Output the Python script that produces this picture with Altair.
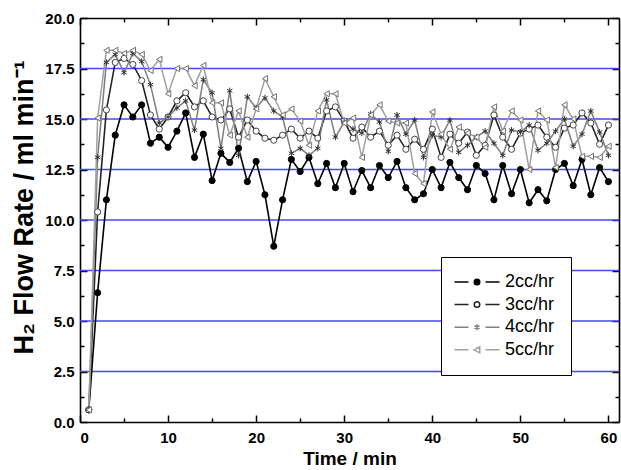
import altair as alt
import pandas as pd

# ---------------- data ----------------
time_min = list(range(1, 61))
series_names = ["2cc/hr", "3cc/hr", "4cc/hr", "5cc/hr"]

flow_2cc = [0.6, 6.4, 11.0, 14.2, 15.7, 15.1, 15.7, 13.8, 14.1, 13.6,
            14.4, 15.3, 13.1, 14.25, 11.95, 13.3, 12.85, 13.55, 11.9, 12.9,
            11.25, 8.7, 11.0, 13.0, 12.4, 13.1, 11.8, 12.8, 11.6, 12.8,
            11.4, 12.45, 11.6, 12.7, 12.1, 12.9, 11.6, 11.0, 11.3, 12.5,
            11.6, 12.85, 12.1, 11.5, 12.7, 12.3, 11.0, 12.7, 11.3, 12.5,
            10.85, 11.5, 10.95, 12.5, 12.8, 11.7, 13.0, 11.25, 12.6, 11.9]
flow_3cc = [0.6, 10.4, 15.45, 17.8, 18.0, 17.7, 16.9, 15.2, 14.5, 15.1,
            15.9, 16.3, 15.6, 15.9, 15.1, 14.95, 15.5, 14.1, 14.95, 14.4,
            14.05, 13.95, 14.2, 14.5, 14.05, 14.4, 14.05, 15.4, 15.6, 14.9,
            14.05, 14.6, 14.1, 14.4, 13.7, 14.2, 13.5, 14.0, 13.5, 14.5,
            13.1, 14.25, 13.8, 14.35, 13.2, 13.7, 15.2, 14.1, 13.5, 14.3,
            14.5, 14.7, 14.1, 13.6, 14.55, 14.7, 15.3, 14.8, 13.75, 14.7]
flow_4cc = [0.6, 13.1, 17.8, 18.2, 17.3, 18.25, 17.85, 16.7, 14.8, 15.1,
            15.55, 15.9, 14.45, 16.95, 16.3, 13.55, 16.4, 13.2, 16.1, 15.55,
            16.05, 15.4, 15.1, 13.3, 13.55, 13.2, 13.55, 15.95, 14.1, 14.85,
            14.5, 14.3, 15.25, 14.85, 13.4, 15.2, 14.25, 14.95, 13.1, 14.2,
            14.1, 14.95, 13.35, 13.7, 14.1, 14.4, 13.8, 13.2, 14.45, 14.35,
            14.7, 13.45, 13.8, 14.4, 15.0, 13.65, 14.25, 15.4, 14.35, 13.2]
flow_5cc = [0.6, 15.05, 18.4, 18.4, 18.25, 18.4, 18.2, 17.4, 17.95, 16.25,
            17.5, 17.5, 16.65, 17.65, 15.8, 15.8, 14.2, 15.4, 14.1, 15.5,
            17.0, 16.1, 15.2, 15.5, 14.9, 13.7, 15.4, 16.25, 16.25, 14.8,
            15.05, 13.1, 15.2, 15.7, 14.9, 14.8, 14.8, 12.3, 11.8, 15.35,
            14.25, 13.5, 14.6, 14.3, 14.1, 13.6, 15.6, 14.4, 15.4, 14.95,
            12.5, 15.4, 14.95, 12.6, 15.7, 15.0, 13.15, 13.15, 13.1, 13.65]

x_major_ticks = [0, 10, 20, 30, 40, 50, 60]
x_minor_ticks = [5, 15, 25, 35, 45, 55]
y_major_ticks = [0, 2.5, 5, 7.5, 10, 12.5, 15, 17.5, 20]
y_minor_ticks = [1.25, 3.75, 6.25, 8.75, 11.25, 13.75, 16.25, 18.75]
y_grid_values = [2.5, 5, 7.5, 10, 12.5, 15, 17.5]

rows = []
for name, vals in zip(series_names, [flow_2cc, flow_3cc, flow_4cc, flow_5cc]):
    for t, v in zip(time_min, vals):
        rows.append({"t": t, "v": v, "series": name})
df = pd.DataFrame(rows)
grid_df = pd.DataFrame({"v": y_grid_values})

# ---------------- styles ----------------
FONT = "Liberation Sans"
W, H = 539, 404
line_colors = ["#000000", "#222222", "#808080", "#a0a0a0"]
line_widths = [1.6, 1.5, 1.0, 1.0]
marker_strokes = ["#000000", "#444444", "#333333", "#707070"]
marker_fills = ["#000000", "#ffffff", "#ffffff", "#ffffff"]
ASTER = "M0,-1L0,1M-0.87,-0.5L0.87,0.5M-0.87,0.5L0.87,-0.5"
marker_shapes = ["circle", "circle", ASTER, "triangle-left"]
marker_sizes = [38, 38, 55, 55]

DASH = "M-2.3,0L0.5,0M3.9,0L6.7,0"
CIRC = "M2.75,0A0.55,0.55,0,1,1,1.65,0A0.55,0.55,0,1,1,2.75,0Z"
AST_S = "M2.2,-0.6L2.2,0.6M1.68,-0.3L2.72,0.3M1.68,0.3L2.72,-0.3"
TRI = "M1.6,0L2.75,-0.6L2.75,0.6Z"
legend_shapes = [DASH + CIRC, DASH + CIRC, DASH + AST_S, DASH + TRI]
legend_fills = ["#000000", "#ffffff", "#ffffff", "#ffffff"]

xs = alt.Scale(domain=[0, 61.2], nice=False, zero=False)
ys = alt.Scale(domain=[0, 20], nice=False, zero=False)


def tick_axis(orient, offset, values, size, frame=False):
    kw = dict(orient=orient, offset=offset, values=values, labels=False, grid=False,
              tickColor="black", tickWidth=1.5, tickSize=size, title=None)
    if frame:
        kw.update(domain=True, domainColor="black", domainWidth=1.6)
    else:
        kw.update(domain=False)
    return alt.Axis(**kw)


ax_x_main = alt.Axis(orient="bottom", values=x_major_ticks, ticks=False, grid=False,
                     domainColor="black", domainWidth=1.6, labelFont=FONT, labelFontSize=15,
                     labelFontWeight="bold", labelColor="black", labelPadding=8,
                     title="Time / min", titleFont=FONT, titleFontSize=19,
                     titleFontWeight="bold", titleColor="black", titlePadding=4, format="d")
ax_y_main = alt.Axis(orient="left", values=y_major_ticks, ticks=False, grid=False,
                     domainColor="black", domainWidth=1.6,
                     labelFont=FONT, labelFontSize=15, labelFontWeight="bold",
                     labelColor="black", labelPadding=6, format=".1f",
                     title="H\u2082 Flow Rate / ml min\u207b\u00b9", titleFont=FONT,
                     titleFontSize=27, titleFontWeight="bold", titleColor="black",
                     titleX=-56, titleY=189, titleBaseline="middle", titleAngle=270)

grid = alt.Chart(grid_df).mark_rule(color="#4646ff", strokeWidth=1.3).encode(
    y=alt.Y("v:Q", scale=ys, axis=None),
)

lines = alt.Chart(df).mark_line().encode(
    x=alt.X("t:Q", scale=xs, axis=ax_x_main),
    y=alt.Y("v:Q", scale=ys, axis=ax_y_main),
    color=alt.Color("series:N", scale=alt.Scale(domain=series_names, range=line_colors), legend=None),
    strokeWidth=alt.StrokeWidth("series:N", scale=alt.Scale(domain=series_names, range=line_widths), legend=None),
)

points = alt.Chart(df).mark_point(opacity=1, fillOpacity=1, strokeWidth=1).encode(
    x=alt.X("t:Q", scale=xs, axis=tick_axis("top", -H, x_major_ticks, 7)),
    y=alt.Y("v:Q", scale=ys, axis=tick_axis("right", -W, y_major_ticks, 7)),
    shape=alt.Shape("series:N", scale=alt.Scale(domain=series_names, range=marker_shapes), legend=None),
    fill=alt.Fill("series:N", scale=alt.Scale(domain=series_names, range=marker_fills), legend=None),
    stroke=alt.Stroke("series:N", scale=alt.Scale(domain=series_names, range=marker_strokes), legend=None),
    size=alt.Size("series:N", scale=alt.Scale(domain=series_names, range=marker_sizes), legend=None),
)

leg = alt.Legend(title=None, orient="none", legendX=361, legendY=239, padding=16,
                 strokeColor="black", fillColor="white", symbolSize=100,
                 symbolStrokeWidth=1.5, labelFont=FONT, labelFontSize=18,
                 labelColor="black", labelOffset=30, rowPadding=4.6, cornerRadius=0)

legend_layer = alt.Chart(df).transform_filter("false").mark_point(
    size=100, opacity=1, fillOpacity=1, strokeWidth=1.5).encode(
    x=alt.X("t:Q", scale=xs, axis=tick_axis("bottom", -H, x_major_ticks, 7, frame=True)),
    y=alt.Y("v:Q", scale=ys, axis=tick_axis("left", -W, y_major_ticks, 7, frame=True)),
    shape=alt.Shape("series:N", scale=alt.Scale(domain=series_names, range=legend_shapes), legend=leg),
    fill=alt.Fill("series:N", scale=alt.Scale(domain=series_names, range=legend_fills), legend=leg),
    stroke=alt.Stroke("series:N", scale=alt.Scale(domain=series_names, range=line_colors), legend=leg),
)

minor_a = alt.Chart(df).transform_filter("false").mark_point().encode(
    x=alt.X("t:Q", scale=xs, axis=tick_axis("top", -H, x_minor_ticks, 4)),
    y=alt.Y("v:Q", scale=ys, axis=tick_axis("right", -W, y_minor_ticks, 4)),
)
minor_b = alt.Chart(df).transform_filter("false").mark_point().encode(
    x=alt.X("t:Q", scale=xs, axis=tick_axis("bottom", -H, x_minor_ticks, 4)),
    y=alt.Y("v:Q", scale=ys, axis=tick_axis("left", -W, y_minor_ticks, 4)),
)

chart = alt.layer(grid, lines, points, legend_layer, minor_a, minor_b).resolve_axis(
    x="independent", y="independent"
).resolve_scale(
    shape="independent", fill="independent", stroke="independent",
    color="independent", size="independent", strokeWidth="independent"
).properties(
    width=W, height=H,
    padding={"left": 80, "top": 18, "right": 2, "bottom": 48},
    autosize=alt.AutoSizeParams(type="none"),
    background="white",
).configure_view(stroke=None)

chart.save("out.html", embed_options={"renderer": "svg", "actions": False})
